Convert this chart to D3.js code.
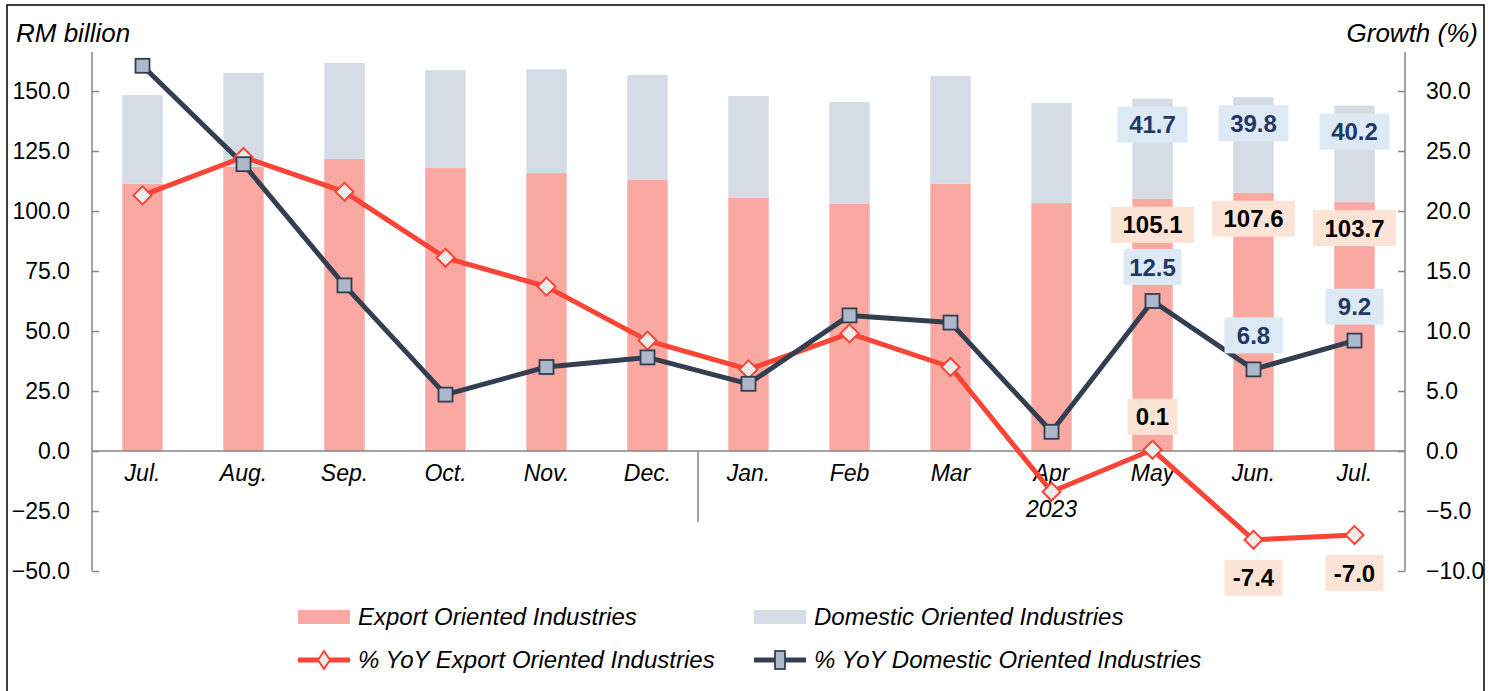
<!DOCTYPE html>
<html>
<head>
<meta charset="utf-8">
<script src="https://cdn.jsdelivr.net/npm/d3@7"></script>
<style>
  html, body { margin: 0; padding: 0; background: #fff; }
  svg { display: block; font-family: "Liberation Sans", Arial, sans-serif; }
</style>
</head>
<body>
<svg id="chart" width="1498" height="691"></svg>
<script>
// ---- data ----
const months = ["Jul.", "Aug.", "Sep.", "Oct.", "Nov.", "Dec.", "Jan.", "Feb", "Mar", "Apr", "May", "Jun.", "Jul."];
const exportValues   = [111.3, 118.5, 121.7, 117.9, 115.8, 112.9, 105.4, 102.9, 111.3, 103.3, 105.1, 107.6, 103.7];
const domesticValues = [37.0, 39.0, 40.0, 40.8, 43.3, 43.8, 42.5, 42.5, 45.0, 41.7, 41.7, 39.8, 40.2];
const exportYoY      = [21.3, 24.5, 21.6, 16.1, 13.7, 9.2, 6.8, 9.8, 7.0, -3.4, 0.1, -7.4, -7.0];
const domesticYoY    = [32.1, 23.9, 13.8, 4.7, 7.0, 7.8, 5.6, 11.3, 10.7, 1.6, 12.5, 6.8, 9.2];
const leftTicks  = [-50, -25, 0, 25, 50, 75, 100, 125, 150];
const rightTicks = [-10, -5, 0, 5, 10, 15, 20, 25, 30];
const yearLabel = "2023";
const yearStartIndex = 6;
// labelled points (indices)
const labelIdxBars = [10, 11, 12];
const labelIdxDomYoY = [10, 11, 12];
const labelIdxExpYoY = [10, 11, 12];

// ---- layout ----
const svg = d3.select("#chart");
const X0 = 92, X1 = 1405, YT = 52, YB = 571;
const C = {
  exportBar: "#f9a9a1", domBar: "#d6dce5", redLine: "#f94436", darkLine: "#333f50",
  sqFill: "#adb9ca", diaFill: "#ececec", axis: "#868686",
  domBox: "#dde9f5", domText: "#1f3864", expBox: "#fbe4d6", expText: "#000"
};
const FS_TICK = 23, FS_LAB = 24, FS_LEG = 24, FS_TITLE = 26;

// outer border
svg.append("rect").attr("x", 7).attr("y", 5).attr("width", 1477).attr("height", 700)
  .attr("fill", "none").attr("stroke", "#000").attr("stroke-width", 1.5);

const idx = months.map((d, i) => i);
const x = d3.scaleBand().domain(idx).range([X0, X1]).paddingInner(0.6).paddingOuter(0.3);
const cx = i => x(i) + x.bandwidth() / 2;
const yL = d3.scaleLinear().domain([-50, 166.25]).range([YB, YT]);
const yR = d3.scaleLinear().domain([-10, 33.25]).range([YB, YT]);

// bars
const g = svg.append("g");
g.selectAll("rect.exp").data(idx).join("rect").attr("class", "exp")
  .attr("x", i => x(i)).attr("width", x.bandwidth())
  .attr("y", i => yL(exportValues[i])).attr("height", i => yL(0) - yL(exportValues[i]))
  .attr("fill", C.exportBar);
g.selectAll("rect.dom").data(idx).join("rect").attr("class", "dom")
  .attr("x", i => x(i)).attr("width", x.bandwidth())
  .attr("y", i => yL(exportValues[i] + domesticValues[i]))
  .attr("height", i => yL(exportValues[i]) - yL(exportValues[i] + domesticValues[i]))
  .attr("fill", C.domBar);

// axes
const axL = d3.axisLeft(yL).tickValues(leftTicks).tickFormat(d3.format(".1f")).tickSize(-7).tickPadding(22);
const gl = svg.append("g").attr("transform", `translate(${X0},0)`).call(axL);
const axR = d3.axisRight(yR).tickValues(rightTicks).tickFormat(d3.format(".1f")).tickSize(-7).tickPadding(21);
const gr = svg.append("g").attr("transform", `translate(${X1},0)`).call(axR);
[gl, gr].forEach(ga => {
  ga.select(".domain").attr("stroke", C.axis).attr("stroke-width", 1.5).attr("d", `M0,${YT}V${YB}`);
  ga.selectAll(".tick line").attr("stroke", C.axis).attr("stroke-width", 1.5);
  ga.selectAll(".tick text").attr("font-size", FS_TICK).attr("fill", "#000")
    .attr("font-family", "Liberation Sans, Arial, sans-serif");
});
// zero line
svg.append("line").attr("x1", X0).attr("x2", X1).attr("y1", yL(0)).attr("y2", yL(0))
  .attr("stroke", C.axis).attr("stroke-width", 1.5);
// year separator
const sepX = x(yearStartIndex) - x.step() * x.paddingInner() / 2;
svg.append("line").attr("x1", sepX).attr("x2", sepX).attr("y1", yL(0)).attr("y2", 522)
  .attr("stroke", C.axis).attr("stroke-width", 1.5);

// category labels
svg.append("g").selectAll("text").data(idx).join("text")
  .attr("x", i => cx(i)).attr("y", yL(0) + 30).attr("text-anchor", "middle")
  .attr("font-size", FS_TICK).attr("font-style", "italic").text(i => months[i]);
svg.append("text").attr("x", (sepX + X1) / 2).attr("y", 517).attr("text-anchor", "middle")
  .attr("font-size", FS_TICK).attr("font-style", "italic").text(yearLabel);

// axis titles
svg.append("text").attr("x", 16).attr("y", 42).attr("font-size", FS_TITLE).attr("font-style", "italic").text("RM billion");
svg.append("text").attr("x", 1478).attr("y", 42).attr("text-anchor", "end").attr("font-size", FS_TITLE).attr("font-style", "italic").text("Growth (%)");

// lines
const lineDom = d3.line().x(i => cx(i)).y(i => yR(domesticYoY[i]));
const lineExp = d3.line().x(i => cx(i)).y(i => yR(exportYoY[i]));
svg.append("path").attr("d", lineExp(idx)).attr("fill", "none").attr("stroke", C.redLine).attr("stroke-width", 5).attr("stroke-linejoin", "round");
svg.append("path").attr("d", lineDom(idx)).attr("fill", "none").attr("stroke", C.darkLine).attr("stroke-width", 5).attr("stroke-linejoin", "round");

// markers
const dia = 9;
svg.append("g").selectAll("path").data(idx).join("path")
  .attr("d", i => `M${cx(i)},${yR(exportYoY[i]) - dia}L${cx(i) + dia},${yR(exportYoY[i])}L${cx(i)},${yR(exportYoY[i]) + dia}L${cx(i) - dia},${yR(exportYoY[i])}Z`)
  .attr("fill", C.diaFill).attr("stroke", C.redLine).attr("stroke-width", 2);
svg.append("g").selectAll("rect").data(idx).join("rect")
  .attr("x", i => cx(i) - 7).attr("y", i => yR(domesticYoY[i]) - 7).attr("width", 14).attr("height", 14)
  .attr("fill", C.sqFill).attr("stroke", C.darkLine).attr("stroke-width", 1.8);

// data labels
function boxLabel(cxv, cyv, txt, bg, fg, w) {
  const gg = svg.append("g");
  gg.append("rect").attr("x", cxv - w / 2).attr("y", cyv - 18).attr("width", w).attr("height", 36).attr("fill", bg);
  gg.append("text").attr("x", cxv).attr("y", cyv + 8.5).attr("text-anchor", "middle")
    .attr("font-size", FS_LAB).attr("font-weight", "bold").attr("fill", fg).text(txt);
}
labelIdxBars.forEach(i => {
  boxLabel(cx(i), yL(exportValues[i] + domesticValues[i]) + 26, domesticValues[i].toFixed(1), C.domBox, C.domText, 70);
  boxLabel(cx(i), yL(exportValues[i]) + 26, exportValues[i].toFixed(1), C.expBox, C.expText, 83);
});
labelIdxDomYoY.forEach(i => {
  boxLabel(cx(i), yR(domesticYoY[i]) - 34, domesticYoY[i].toFixed(1), C.domBox, C.domText, 58);
});
labelIdxExpYoY.forEach(i => {
  const v = exportYoY[i];
  boxLabel(cx(i), v >= 0 ? yR(v) - 33 : yR(v) + 38, v.toFixed(1), C.expBox, C.expText, v >= 0 ? 50 : 58);
});

// legend
const lg = svg.append("g");
const legendItems = [
  { x: 298, y: 617, type: "bar", color: C.exportBar, label: "Export Oriented Industries" },
  { x: 754, y: 617, type: "bar", color: C.domBar, label: "Domestic Oriented Industries" },
  { x: 298, y: 660, type: "dia", color: C.redLine, label: "% YoY Export Oriented Industries" },
  { x: 754, y: 660, type: "sq", color: C.darkLine, label: "% YoY Domestic Oriented Industries" }
];
legendItems.forEach(it => {
  if (it.type === "bar") {
    lg.append("rect").attr("x", it.x).attr("y", it.y - 7).attr("width", 52).attr("height", 14).attr("fill", it.color);
  } else {
    lg.append("line").attr("x1", it.x).attr("x2", it.x + 52).attr("y1", it.y).attr("y2", it.y)
      .attr("stroke", it.color).attr("stroke-width", 5);
    const mx = it.x + 26;
    if (it.type === "dia") {
      lg.append("path").attr("d", `M${mx},${it.y - 9}L${mx + 6},${it.y}L${mx},${it.y + 9}L${mx - 6},${it.y}Z`)
        .attr("fill", C.diaFill).attr("stroke", C.redLine).attr("stroke-width", 2);
    } else {
      lg.append("rect").attr("x", mx - 5).attr("y", it.y - 9).attr("width", 10).attr("height", 18)
        .attr("fill", C.sqFill).attr("stroke", C.darkLine).attr("stroke-width", 1.8);
    }
  }
  lg.append("text").attr("x", it.x + 60).attr("y", it.y + 8).attr("font-size", FS_LEG).attr("font-style", "italic").text(it.label);
});
</script>
</body>
</html>
